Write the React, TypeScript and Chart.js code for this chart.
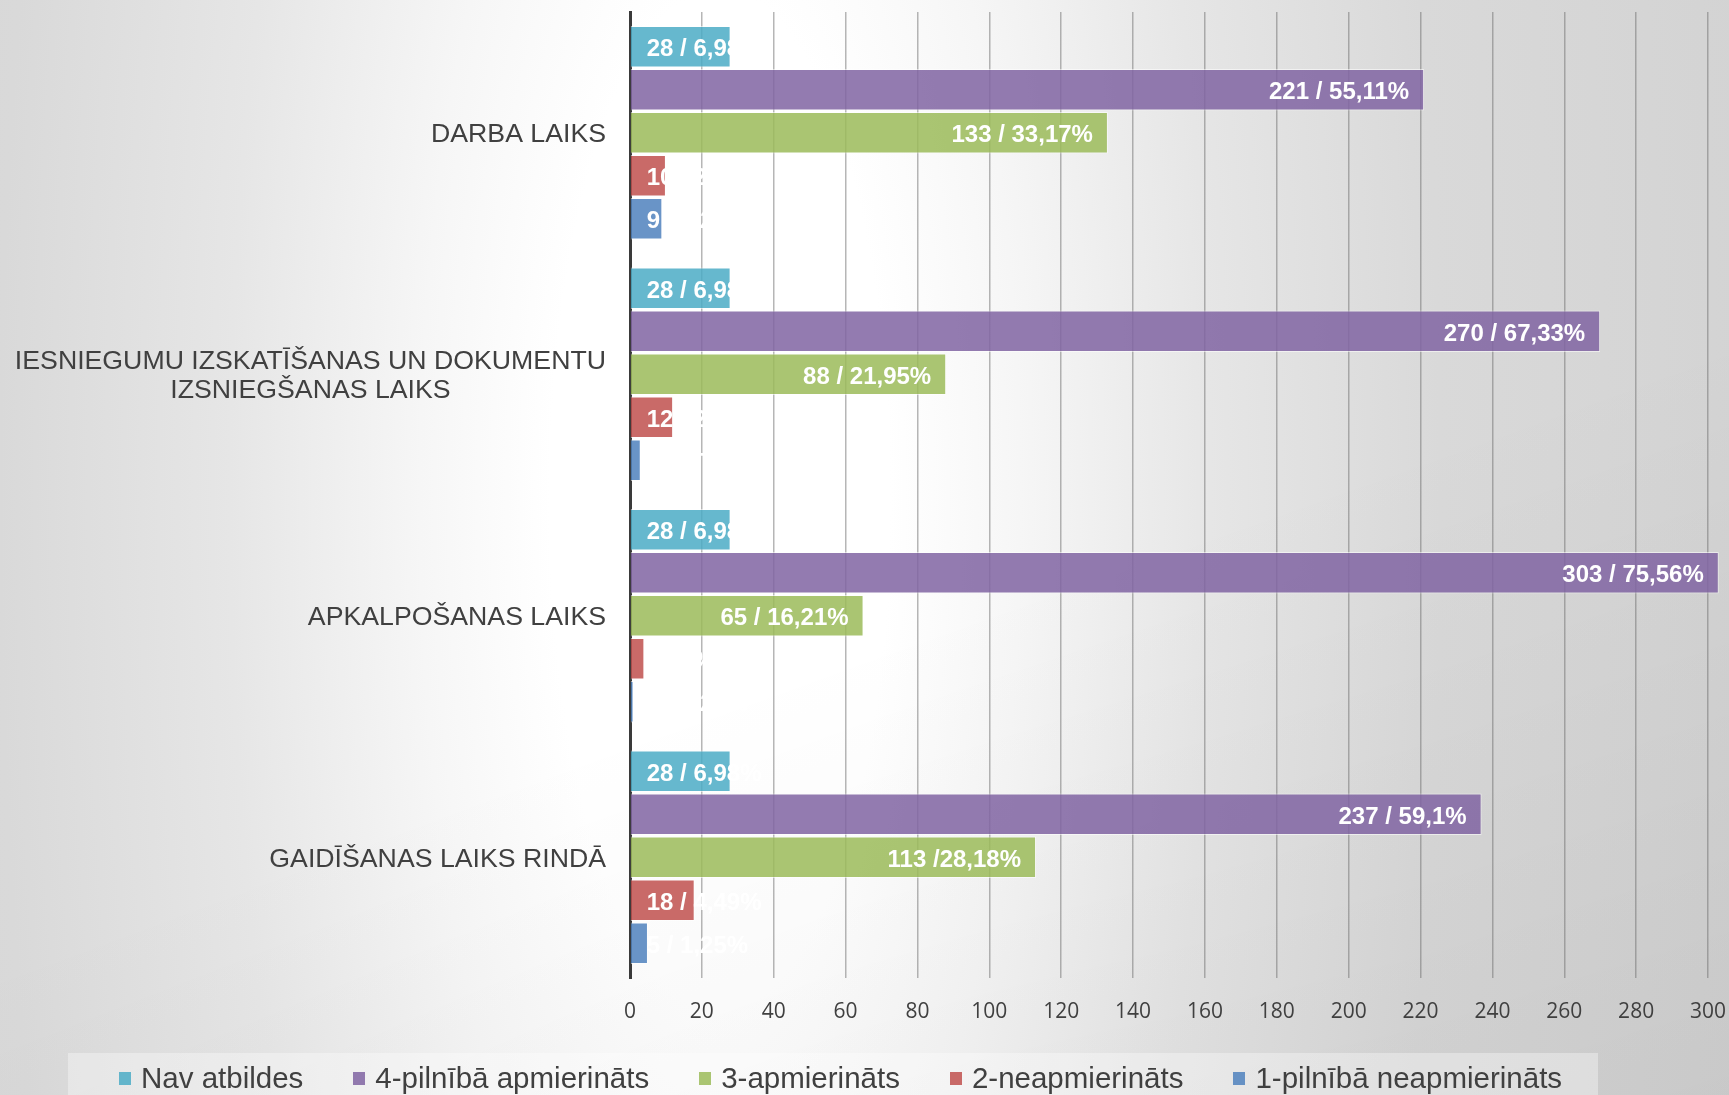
import React, { useEffect, useRef } from 'react';
import { Chart, registerables } from 'chart.js';

Chart.register(...registerables);

const categories: (string | string[])[] = [
  'DARBA LAIKS',
  ['IESNIEGUMU IZSKATĪŠANAS UN DOKUMENTU', 'IZSNIEGŠANAS LAIKS'],
  'APKALPOŠANAS LAIKS',
  'GAIDĪŠANAS LAIKS RINDĀ',
];

const seriesNames = [
  'Nav atbildes',
  '4-pilnībā apmierināts',
  '3-apmierināts',
  '2-neapmierināts',
  '1-pilnībā neapmierināts',
];

const navAtbildes = [28, 28, 28, 28];
const pilnibaApmierinats = [221, 270, 303, 237];
const apmierinats = [133, 88, 65, 113];
const neapmierinats = [10, 12, 4, 18];
const pilnibaNeapmierinats = [9, 3, 1, 5];

const navAtbildesLabels = ['28 / 6,98%', '28 / 6,98%', '28 / 6,98%', '28 / 6,98%'];
const pilnibaApmierinatsLabels = ['221 / 55,11%', '270 / 67,33%', '303 / 75,56%', '237 / 59,1%'];
const apmierinatsLabels = ['133 / 33,17%', '88 / 21,95%', '65 / 16,21%', '113 /28,18%'];
const neapmierinatsLabels = ['10 / 2,49%', '12 / 2,99%', '4 / 1%', '18 / 4,49%'];
const pilnibaNeapmierinatsLabels = ['9 / 2,24%', '3 / 0,75%', '1 / 0,25%', '5 / 1,25%'];

const xMin = 0;
const xMax = 300;
const xStep = 20;

const seriesColors = [
  'rgba(75,172,198,0.85)',
  'rgba(128,100,162,0.85)',
  'rgba(155,187,89,0.85)',
  'rgba(192,80,77,0.85)',
  'rgba(79,129,189,0.85)',
];

const seriesValues = [navAtbildes, pilnibaApmierinats, apmierinats, neapmierinats, pilnibaNeapmierinats];
const seriesLabels = [
  navAtbildesLabels,
  pilnibaApmierinatsLabels,
  apmierinatsLabels,
  neapmierinatsLabels,
  pilnibaNeapmierinatsLabels,
];

const valueLabelPlugin = {
  id: 'valueLabels',
  afterDatasetsDraw(chart: any) {
    const ctx = chart.ctx;
    ctx.save();
    ctx.font = 'bold 24px "Liberation Sans", Arial, sans-serif';
    ctx.fillStyle = '#ffffff';
    ctx.textBaseline = 'middle';
    ctx.textAlign = 'left';
    chart.data.datasets.forEach((ds: any, di: number) => {
      const meta = chart.getDatasetMeta(di);
      const labels = seriesLabels[di];
      meta.data.forEach((bar: any, i: number) => {
        const text = labels[i];
        const w = ctx.measureText(text).width;
        const start = bar.base;
        const end = bar.x;
        let left = end - 15 - w;
        if (left < start + 16) left = start + 16;
        ctx.fillText(text, left, bar.y + 3);
      });
    });
    ctx.restore();
  },
};

const categoryLabelPlugin = {
  id: 'categoryLabels',
  afterDraw(chart: any) {
    const ctx = chart.ctx;
    const yScale = chart.scales.y;
    const rightEdge = chart.chartArea.left - 24;
    const lineHeight = 29;
    ctx.save();
    ctx.font = '26.7px "Liberation Sans", Arial, sans-serif';
    ctx.fillStyle = '#404040';
    ctx.textBaseline = 'middle';
    ctx.textAlign = 'center';
    categories.forEach((cat, i) => {
      const lines = Array.isArray(cat) ? cat : [cat];
      const widest = Math.max(...lines.map((l) => ctx.measureText(l).width));
      const cx = rightEdge - widest / 2;
      const cy = yScale.getPixelForValue(i) + 2;
      const top = cy - ((lines.length - 1) * lineHeight) / 2;
      lines.forEach((l, li) => {
        ctx.fillText(l, cx, top + li * lineHeight);
      });
    });
    ctx.restore();
  },
};

export default function App() {
  const canvasRef = useRef<HTMLCanvasElement | null>(null);

  useEffect(() => {
    if (!canvasRef.current) return;
    const chart = new Chart(canvasRef.current, {
      type: 'bar',
      data: {
        labels: categories as any,
        datasets: seriesNames.map((name, i) => ({
          label: name,
          data: seriesValues[i],
          backgroundColor: seriesColors[i],
          borderColor: 'rgba(255,255,255,0.55)',
          borderWidth: 1,
          categoryPercentage: 0.89,
          barPercentage: 0.97,
          clip: false as any,
        })),
      },
      options: {
        indexAxis: 'y',
        animation: false,
        responsive: false,
        devicePixelRatio: 1,
        layout: { padding: { top: 12, right: 21, bottom: 0, left: 0 } },
        plugins: {
          legend: { display: false },
          tooltip: { enabled: false },
        },
        scales: {
          x: {
            type: 'linear',
            min: xMin,
            max: xMax,
            ticks: {
              stepSize: xStep,
              padding: 21,
              color: '#404040',
              font: { family: '"Open Sans", sans-serif', size: 21 },
            },
            grid: {
              color: 'rgba(110,110,110,0.5)',
              lineWidth: 1.5,
              drawTicks: false,
            },
            border: { display: false },
            afterFit: (scale: any) => {
              scale.height = 117;
              scale.paddingLeft = 0;
              scale.paddingRight = 0;
            },
          },
          y: {
            type: 'category',
            ticks: { display: false },
            grid: { display: false, drawTicks: false },
            border: { display: true, color: '#3a3a3a', width: 3 },
            afterFit: (scale: any) => {
              scale.width = 630;
              scale.paddingTop = 0;
              scale.paddingBottom = 0;
            },
          },
        },
      },
      plugins: [valueLabelPlugin, categoryLabelPlugin],
    } as any);
    return () => chart.destroy();
  }, []);

  return (
    <div
      style={{
        position: 'absolute',
        left: 0,
        top: 0,
        width: 1729,
        height: 1095,
        overflow: 'hidden',
        background:
          'linear-gradient(160deg, rgba(0,0,0,0) 55%, rgba(0,0,0,0.05) 100%), radial-gradient(ellipse 1000px 3000px at 720px 500px, #ffffff 0px, #ffffff 170px, #f6f6f6 300px, #e6e6e6 490px, #d9d9d9 720px, #d3d3d3 1050px, #cbcbcb 1200px)',
      }}
    >
      <canvas
        ref={canvasRef}
        width={1729}
        height={1095}
        style={{ position: 'absolute', left: 0, top: 0, width: 1729, height: 1095 }}
      />
      <div
        style={{
          position: 'absolute',
          left: 68,
          top: 1053,
          width: 1530,
          height: 42,
          background: 'rgba(255,255,255,0.35)',
          display: 'flex',
          alignItems: 'center',
          gap: 50,
          paddingLeft: 51,
          boxSizing: 'border-box',
          fontFamily: '"Liberation Sans", Arial, sans-serif',
          fontSize: 29.5,
          color: '#404040',
          whiteSpace: 'nowrap',
        }}
      >
        {seriesNames.map((name, i) => (
          <div key={name} style={{ display: 'flex', alignItems: 'center', gap: 10, paddingTop: 8 }}>
            <span
              style={{
                display: 'inline-block',
                width: 12,
                height: 13,
                background: seriesColors[i],
              }}
            />
            <span>{name}</span>
          </div>
        ))}
      </div>
    </div>
  );
}
